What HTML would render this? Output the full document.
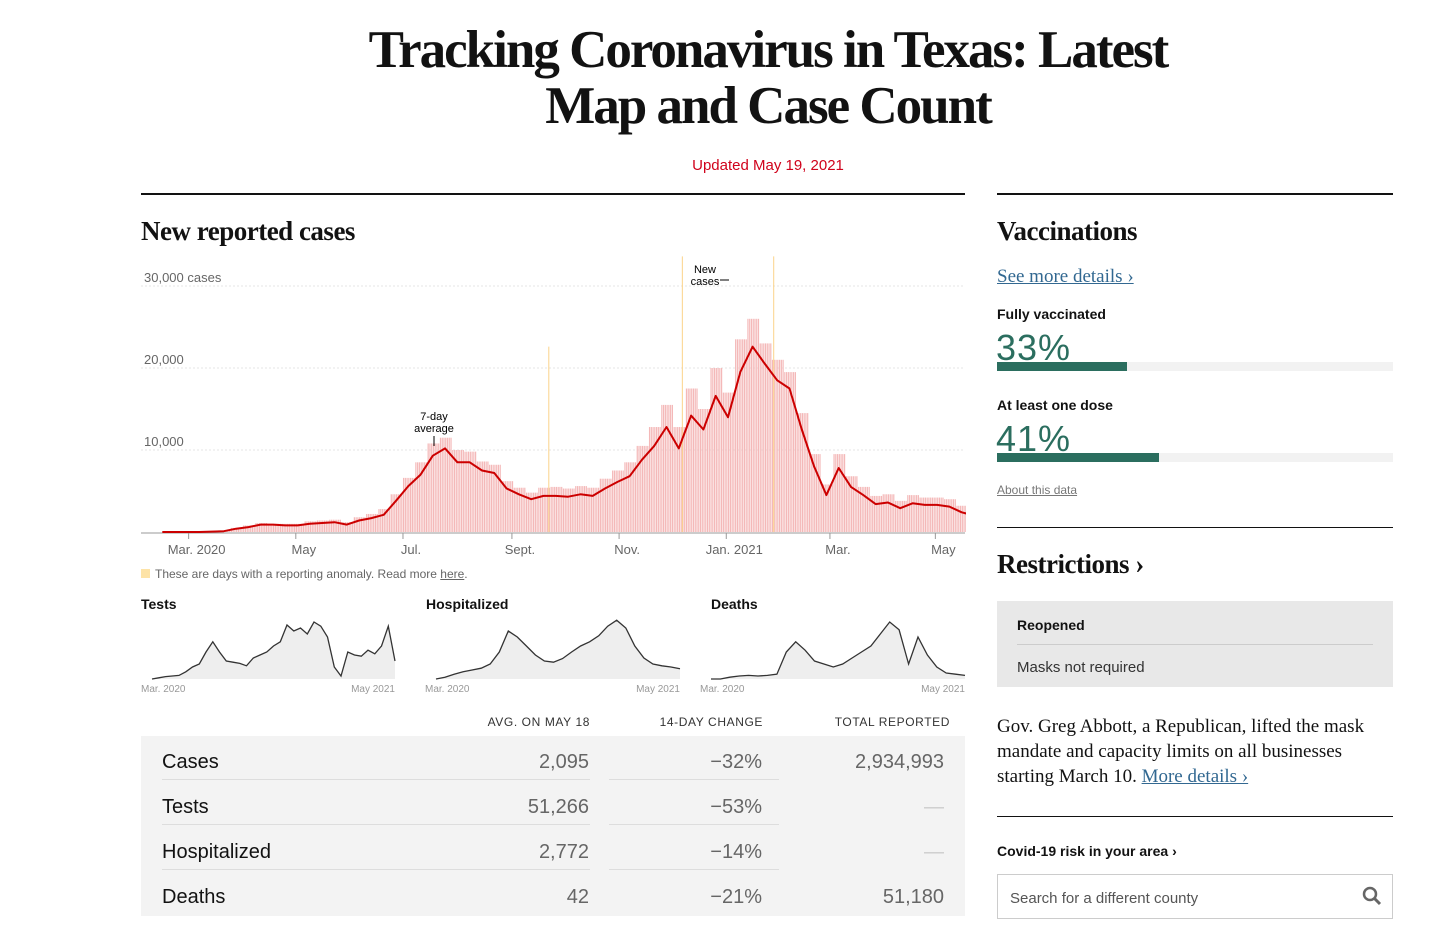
<!DOCTYPE html>
<html><head><meta charset="utf-8"><style>
body{margin:0;width:1456px;height:928px;background:#fff;position:relative;overflow:hidden;font-family:"Liberation Sans",sans-serif;color:#121212}
.a{position:absolute;white-space:nowrap}
.serif{font-family:"Liberation Serif",serif}
.rule{position:absolute;height:2px;background:#121212}
.h2{font-family:"Liberation Serif",serif;font-weight:bold;font-size:27px;letter-spacing:-0.5px}
.lbl{font-weight:bold;font-size:14px}
.pct{font-size:36px;color:#2b6e5f;font-weight:300;letter-spacing:1px}
.trk{position:absolute;height:9px;background:#f2f2f2;left:997px;width:396px}
.fill{position:absolute;left:0;top:0;height:9px;background:#2b6e5f}
.row{position:absolute;left:141px;width:824px;height:45px;font-size:20px}
.row span{position:absolute;top:12px}
.th{font-size:12px;letter-spacing:0.6px;color:#333;text-align:right}
</style></head><body>
<div class="a serif" style="left:0;width:1536px;top:22px;text-align:center;font-weight:bold;font-size:53px;line-height:56px;letter-spacing:-2px;white-space:normal">Tracking Coronavirus in Texas: Latest<br>Map and Case Count</div>
<div class="a" style="left:0;width:1536px;text-align:center;top:157px;font-size:15px;color:#d0021b">Updated May 19, 2021</div>

<div class="rule" style="left:141px;width:824px;top:193px"></div>
<div class="rule" style="left:997px;width:396px;top:193px"></div>
<div class="a h2" style="left:141px;top:216px">New reported cases</div>

<svg id="main" style="position:absolute;left:141px;top:255px" width="825" height="335" viewBox="141 255 825 335"></svg>

<div class="a" style="left:141px;top:567px;font-size:12px;color:#666"><span style="display:inline-block;width:9px;height:9px;background:#fde3a7;margin-right:5px"></span>These are days with a reporting anomaly. Read more <u>here</u>.</div>

<div class="a lbl" style="left:141px;top:596px">Tests</div>
<div class="a lbl" style="left:426px;top:596px">Hospitalized</div>
<div class="a lbl" style="left:711px;top:596px">Deaths</div>
<svg id="spark" style="position:absolute;left:0;top:600px" width="980" height="100" viewBox="0 600 980 100"></svg>

<div class="a th" style="right:866px;top:715px">AVG. ON MAY 18</div>
<div class="a th" style="right:693px;top:715px">14-DAY CHANGE</div>
<div class="a th" style="right:506px;top:715px">TOTAL REPORTED</div>
<div class="a" style="left:141px;top:736px;width:824px;height:180px;background:#f3f3f3"></div>
<div class="row" style="top:739px"><span style="left:21px">Cases</span><span style="right:376px;color:#666">2,095</span><span style="right:203px;color:#666">−32%</span><span style="right:21px;color:#666">2,934,993</span></div>
<div class="row" style="top:784px"><span style="left:21px">Tests</span><span style="right:376px;color:#666">51,266</span><span style="right:203px;color:#666">−53%</span><span style="right:21px;color:#ccc">—</span></div>
<div class="row" style="top:829px"><span style="left:21px">Hospitalized</span><span style="right:376px;color:#666">2,772</span><span style="right:203px;color:#666">−14%</span><span style="right:21px;color:#ccc">—</span></div>
<div class="row" style="top:874px"><span style="left:21px">Deaths</span><span style="right:376px;color:#666">42</span><span style="right:203px;color:#666">−21%</span><span style="right:21px;color:#666">51,180</span></div>
<div class="a" style="left:162px;top:779px;width:428px;height:1px;background:#ddd"></div><div class="a" style="left:609px;top:779px;width:170px;height:1px;background:#ddd"></div>
<div class="a" style="left:162px;top:824px;width:428px;height:1px;background:#ddd"></div><div class="a" style="left:609px;top:824px;width:170px;height:1px;background:#ddd"></div>
<div class="a" style="left:162px;top:869px;width:428px;height:1px;background:#ddd"></div><div class="a" style="left:609px;top:869px;width:170px;height:1px;background:#ddd"></div>

<div class="a h2" style="left:997px;top:216px">Vaccinations</div>
<div class="a serif" style="left:997px;top:266px;font-size:19px;color:#326891;text-decoration:underline">See more details ›</div>
<div class="a lbl" style="left:997px;top:306px">Fully vaccinated</div>
<div class="a pct" style="left:996px;top:327px">33%</div>
<div class="trk" style="top:362px"><div class="fill" style="width:130px"></div></div>
<div class="a lbl" style="left:997px;top:397px">At least one dose</div>
<div class="a pct" style="left:996px;top:418px">41%</div>
<div class="trk" style="top:453px"><div class="fill" style="width:162px"></div></div>
<div class="a" style="left:997px;top:483px;font-size:12px;color:#777;text-decoration:underline">About this data</div>
<div class="rule" style="left:997px;width:396px;top:527px;height:1px"></div>
<div class="a h2" style="left:997px;top:549px">Restrictions ›</div>
<div class="a" style="left:997px;top:601px;width:396px;height:86px;background:#e8e8e8"></div>
<div class="a lbl" style="left:1017px;top:617px">Reopened</div>
<div class="a" style="left:1017px;top:644px;width:356px;height:1px;background:#ccc"></div>
<div class="a" style="left:1017px;top:659px;font-size:15px;color:#333">Masks not required</div>
<div class="a serif" style="left:997px;top:714px;width:400px;font-size:19px;line-height:25px;white-space:normal">Gov. Greg Abbott, a Republican, lifted the mask mandate and capacity limits on all businesses starting March 10. <span style="color:#326891;text-decoration:underline">More details ›</span></div>
<div class="rule" style="left:997px;width:396px;top:816px;height:1px"></div>
<div class="a lbl" style="left:997px;top:843px">Covid-19 risk in your area ›</div>
<div class="a" style="left:997px;top:874px;width:394px;height:43px;border:1px solid #ccc"><span style="position:absolute;left:12px;top:15px;font-size:15px;color:#555">Search for a different county</span>
<svg style="position:absolute;right:10px;top:11px" width="20" height="20"><circle cx="8" cy="8" r="6" fill="none" stroke="#666" stroke-width="2.5"/><line x1="12.5" y1="12.5" x2="18" y2="18" stroke="#666" stroke-width="3"/></svg></div>

<script>
// weekly 7-day average (thousands), week starting Feb 12 2020
const avgCases=[0,0,0,0,0.05,0.1,0.4,0.6,0.9,0.9,0.8,0.8,1.0,1.1,1.2,0.9,1.4,1.7,2.1,3.8,5.6,7.0,9.3,10.2,8.5,8.5,7.5,7.2,5.3,4.6,4.0,4.4,4.4,4.3,4.6,4.4,5.3,6.1,6.8,8.8,10.5,12.8,10.2,14.2,12.5,16.6,14.0,19.5,22.6,20.5,18.5,17.5,12.5,8.0,4.5,7.8,5.5,4.5,3.4,3.6,2.9,3.5,3.3,3.3,3.1,2.4,2.0];
const barCases=[0,0,0,0,0.1,0.2,0.5,0.8,1.1,1.0,1.0,1.0,1.3,1.4,1.5,1.2,1.8,2.2,2.8,4.6,6.6,8.5,10.8,11.5,10.0,9.8,8.6,8.2,6.2,5.4,4.8,5.4,5.5,5.3,5.6,5.4,6.5,7.5,8.5,10.5,12.8,15.5,12.8,17.5,15.0,20.0,17.0,23.5,26.0,23.0,21.0,19.5,14.5,9.5,5.8,9.5,6.8,5.5,4.4,4.6,3.8,4.5,4.2,4.2,4.0,3.2,2.8];
const anomalyDays=[223,299,351];
const anomalyVals=[22,33,33];
const gridVals=[10,20,30];
const gridLabels=["10,000","20,000","30,000 cases"];
const monthDays=[18,79,140,202,263,324,383,443];
const monthLabels=["Mar. 2020","May","Jul.","Sept.","Nov.","Jan. 2021","Mar.","May"];
const testsVals=[0,2,4,5,6,12,20,25,45,62,45,30,28,26,22,35,40,45,55,62,90,80,85,75,95,88,70,20,5,45,40,38,48,42,55,88,30];
const hospVals=[0,3,8,12,15,18,25,45,80,70,55,40,30,28,34,45,55,62,72,88,98,85,55,35,25,22,20,17];
const deathVals=[0,0,3,5,6,5,6,8,45,62,48,30,25,20,25,35,45,55,75,95,82,25,70,40,20,10,8,6];

const NS="http://www.w3.org/2000/svg";
function mk(p,t,at){const e=document.createElementNS(NS,t);for(const k in at)e.setAttribute(k,at[k]);p.appendChild(e);return e;}
const X=d=>157+d*1.757, Y=v=>532-v*8.2;
const svg=document.getElementById('main');
gridVals.forEach((v,i)=>{
  const g=mk(svg,'line',{x1:141,x2:965,y1:Y(v),y2:Y(v),stroke:'#e4e4e4','stroke-dasharray':'2,2'});
  
  
  const t=mk(svg,'text',{x:144,y:Y(v)-4,'font-size':13,fill:'#666'});t.textContent=gridLabels[i];
  
  
});
barCases.forEach((v,i)=>{
  for(let k=0;k<7;k++){
    const b=mk(svg,'rect',{x:X(i*7+k),y:Y(v),width:1.2,height:532-Y(v),fill:'#f4b8b8'});
    
    
  }
});
anomalyDays.forEach((d,i)=>{
  const l=mk(svg,'line',{x1:X(d),x2:X(d),y1:532,y2:Y(anomalyVals[i])-5,stroke:'#fbd38a','stroke-width':1});
  
  
});
const ax=mk(svg,'line',{x1:141,x2:965,y1:533,y2:533,stroke:'#999'});


monthDays.forEach((d,i)=>{
  mk(svg,'line',{x1:X(d),x2:X(d),y1:533,y2:539,stroke:'#999'});
  const t=mk(svg,'text',{x:X(d)+8,y:554,'font-size':13,fill:'#666','text-anchor':'middle'});t.textContent=monthLabels[i];
  
  
});
const line=mk(svg,'path',{d:avgCases.map((v,i)=>(i?'L':'M')+X(i*7+3).toFixed(1)+','+Y(v).toFixed(1)).join(''),fill:'none',stroke:'#cc0000','stroke-width':2,'stroke-linejoin':'round'});


mk(svg,'line',{x1:434,x2:434,y1:436,y2:446,stroke:'#000'});
[["7-day",420],["average",432]].forEach(([s,y])=>{const t=mk(svg,'text',{x:434,y:y,'font-size':11,'text-anchor':'middle'});t.textContent=s;
  
  });
[["New",273],["cases",285]].forEach(([s,y])=>{const t=mk(svg,'text',{x:705,y:y,'font-size':11,'text-anchor':'middle'});t.textContent=s;
  
  });
mk(svg,'line',{x1:720,x2:729,y1:280,y2:280,stroke:'#000'});

const sp=document.getElementById('spark');
function spark(vals,x0,x1,name){
  const step=(x1-x0)/(vals.length-1), yb=679, h=60;
  const pts=vals.map((v,i)=>[x0+i*step,yb-v/100*h]);
  const d=pts.map((p,i)=>(i?'L':'M')+p[0].toFixed(1)+','+p[1].toFixed(1)).join('');
  mk(sp,'path',{d:d+`L${x1},${yb}L${x0},${yb}Z`,fill:'#eee'});
  const l=mk(sp,'path',{d:d,fill:'none',stroke:'#333','stroke-width':1.3});
  
  
  const a=mk(sp,'text',{x:x0-11,y:692,'font-size':10,fill:'#999'});a.textContent='Mar. 2020';
  const b=mk(sp,'text',{x:x1,y:692,'font-size':10,fill:'#999','text-anchor':'end'});b.textContent='May 2021';
}
spark(testsVals,152,395,'tests-sparkline');
spark(hospVals,436,680,'hospitalized-sparkline');
spark(deathVals,711,965,'deaths-sparkline');
</script>
</body></html>
